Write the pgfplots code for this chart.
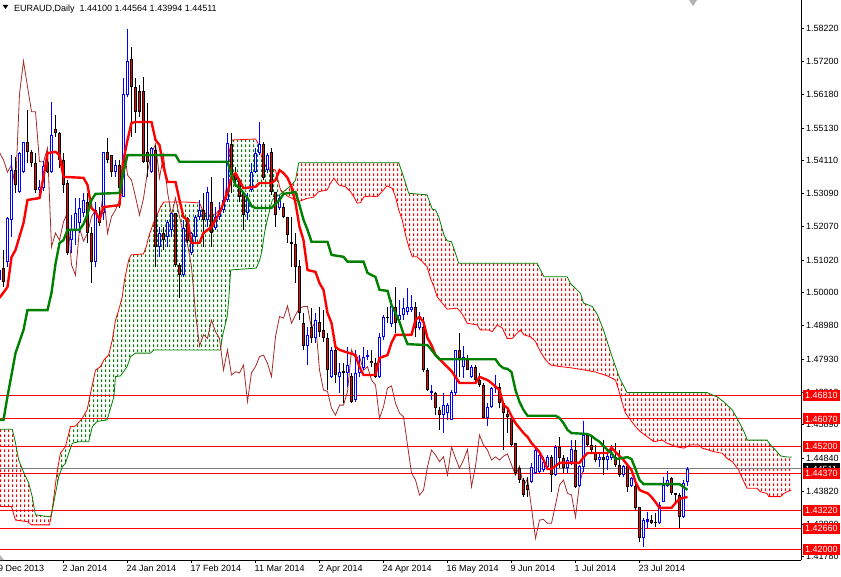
\documentclass[border=0pt]{standalone}
\usepackage{fontspec}
\setmainfont{Liberation Sans}
\usepackage{pgfplots}
\pgfplotsset{compat=1.18}
\usepackage{pgfplotstable}
\usepgfplotslibrary{fillbetween}
\usetikzlibrary{patterns.meta}

\definecolor{mtred}{RGB}{255,0,0}
\definecolor{mtgreen}{RGB}{0,128,0}
\definecolor{mtbrown}{RGB}{165,42,42}
\definecolor{mtblue}{RGB}{0,0,255}

% kumo hatch: one dashed vertical line per bar (4px)
\pgfdeclarepattern{
  name=kumo, type=uncolored,
  bottom left={\pgfpoint{0pt}{0pt}}, top right={\pgfpoint{4pt}{5pt}},
  tile size={\pgfpoint{4pt}{5pt}},
  code={\pgfsetlinewidth{1pt}\pgfpathmoveto{\pgfpoint{2pt}{0pt}}\pgfpathlineto{\pgfpoint{2pt}{3pt}}\pgfusepath{stroke}}
}

% daily candles, bar 0 = 9 Dec 2013
\pgfplotstableread{
i o h l c
0 1.5040 1.5100 1.5010 1.5070
1 1.5077 1.5133 1.5018 1.5034
2 1.5096 1.5236 1.5080 1.5233
3 1.5227 1.5429 1.5174 1.5382
4 1.5382 1.5423 1.5311 1.5336
5 1.5314 1.5439 1.5311 1.5435
6 1.5376 1.5470 1.5373 1.5470
7 1.5470 1.5569 1.5404 1.5439
8 1.5439 1.5445 1.5392 1.5404
9 1.5404 1.5435 1.5311 1.5320
10 1.5320 1.5351 1.5311 1.5330
11 1.5325 1.5410 1.5318 1.5395
12 1.5407 1.5423 1.5373 1.5376
13 1.5376 1.5594 1.5373 1.5491
14 1.5510 1.5554 1.5486 1.5498
15 1.5498 1.5500 1.5389 1.5414
16 1.5414 1.5435 1.5311 1.5336
17 1.5342 1.5351 1.5118 1.5124
18 1.5164 1.5242 1.5124 1.5196
19 1.5196 1.5295 1.5150 1.5249
20 1.5217 1.5295 1.5186 1.5264
21 1.5249 1.5311 1.5236 1.5289
22 1.5283 1.5311 1.5155 1.5186
23 1.5186 1.5205 1.5030 1.5096
24 1.5096 1.5283 1.5080 1.5258
25 1.5236 1.5268 1.5208 1.5217
26 1.5249 1.5437 1.5227 1.5437
27 1.5437 1.5481 1.5404 1.5414
28 1.5429 1.5429 1.5362 1.5376
29 1.5376 1.5414 1.5362 1.5398
30 1.5398 1.5414 1.5264 1.5326
31 1.5299 1.5669 1.5298 1.5619
32 1.5616 1.5822 1.5611 1.5722
33 1.5727 1.5767 1.5486 1.5642
34 1.5642 1.5669 1.5498 1.5564
35 1.5630 1.5647 1.5549 1.5564
36 1.5630 1.5673 1.5404 1.5408
37 1.5440 1.5591 1.5360 1.5408
38 1.5377 1.5455 1.5373 1.5450
39 1.5445 1.5460 1.5080 1.5143
40 1.5143 1.5205 1.5112 1.5186
41 1.5186 1.5205 1.5133 1.5164
42 1.5174 1.5227 1.5143 1.5221
43 1.5196 1.5249 1.5174 1.5249
44 1.5249 1.5249 1.5080 1.5087
45 1.5087 1.5093 1.4984 1.5055
46 1.5055 1.5227 1.5050 1.5201
47 1.5233 1.5236 1.5155 1.5161
48 1.5123 1.5190 1.5118 1.5185
49 1.5174 1.5242 1.5155 1.5237
50 1.5237 1.5289 1.5227 1.5258
51 1.5258 1.5311 1.5143 1.5227
52 1.5227 1.5330 1.5206 1.5315
53 1.5284 1.5362 1.5143 1.5185
54 1.5201 1.5268 1.5196 1.5237
55 1.5237 1.5284 1.5227 1.5258
56 1.5258 1.5358 1.5249 1.5289
57 1.5289 1.5497 1.5284 1.5466
58 1.5463 1.5497 1.5310 1.5367
59 1.5367 1.5393 1.5330 1.5351
60 1.5351 1.5351 1.5284 1.5299
61 1.5310 1.5310 1.5196 1.5242
62 1.5248 1.5310 1.5227 1.5294
63 1.5320 1.5403 1.5315 1.5377
64 1.5377 1.5450 1.5372 1.5434
65 1.5434 1.5533 1.5429 1.5463
66 1.5463 1.5470 1.5351 1.5357
67 1.5382 1.5434 1.5372 1.5429
68 1.5439 1.5450 1.5305 1.5314
69 1.5314 1.5314 1.5205 1.5242
70 1.5264 1.5305 1.5258 1.5295
71 1.5268 1.5280 1.5233 1.5237
72 1.5237 1.5237 1.5155 1.5180
73 1.5157 1.5237 1.5081 1.5152
74 1.5152 1.5186 1.5030 1.5081
75 1.5084 1.5102 1.4915 1.4936
76 1.4905 1.4937 1.4822 1.4834
77 1.4834 1.4894 1.4775 1.4869
78 1.4892 1.4953 1.4844 1.4858
79 1.4858 1.4937 1.4844 1.4915
80 1.4910 1.4957 1.4863 1.4879
81 1.4884 1.4946 1.4848 1.4858
82 1.4858 1.4874 1.4697 1.4759
83 1.4739 1.4832 1.4735 1.4822
84 1.4822 1.4828 1.4719 1.4744
85 1.4738 1.4781 1.4688 1.4754
86 1.4755 1.4781 1.4657 1.4750
87 1.4749 1.4832 1.4707 1.4775
88 1.4741 1.4750 1.4656 1.4661
89 1.4666 1.4822 1.4661 1.4751
90 1.4750 1.4806 1.4739 1.4770
91 1.4765 1.4832 1.4759 1.4801
92 1.4800 1.4822 1.4791 1.4806
93 1.4788 1.4822 1.4770 1.4780
94 1.4782 1.4797 1.4735 1.4739
95 1.4739 1.4874 1.4735 1.4863
96 1.4863 1.4931 1.4853 1.4926
97 1.4926 1.4957 1.4905 1.4921
98 1.4903 1.4978 1.4894 1.4959
99 1.4957 1.5019 1.4874 1.4905
100 1.4915 1.4978 1.4905 1.4931
101 1.4931 1.4984 1.4915 1.4952
102 1.4941 1.5015 1.4931 1.4957
103 1.4946 1.4993 1.4941 1.4957
104 1.4957 1.4972 1.4863 1.4889
105 1.4889 1.4941 1.4884 1.4910
106 1.4894 1.4926 1.4754 1.4759
107 1.4759 1.4766 1.4695 1.4697
108 1.4688 1.4713 1.4666 1.4693
109 1.4689 1.4692 1.4619 1.4640
110 1.4635 1.4645 1.4573 1.4619
111 1.4619 1.4687 1.4563 1.4650
112 1.4625 1.4657 1.4604 1.4650
113 1.4604 1.4697 1.4604 1.4692
114 1.4687 1.4822 1.4682 1.4822
115 1.4822 1.4874 1.4739 1.4796
116 1.4770 1.4834 1.4735 1.4801
117 1.4796 1.4806 1.4759 1.4759
118 1.4739 1.4775 1.4735 1.4770
119 1.4770 1.4775 1.4723 1.4728
120 1.4728 1.4750 1.4707 1.4713
121 1.4713 1.4719 1.4609 1.4609
122 1.4609 1.4657 1.4585 1.4645
123 1.4645 1.4707 1.4641 1.4703
124 1.4703 1.4744 1.4688 1.4710
125 1.4708 1.4719 1.4641 1.4656
126 1.4656 1.4661 1.4510 1.4625
127 1.4622 1.4645 1.4563 1.4614
128 1.4609 1.4614 1.4521 1.4526
129 1.4531 1.4532 1.4433 1.4438
130 1.4453 1.4458 1.4407 1.4417
131 1.4417 1.4423 1.4365 1.4370
132 1.4400 1.4427 1.4365 1.4385
133 1.4412 1.4470 1.4407 1.4458
134 1.4438 1.4516 1.4436 1.4510
135 1.4443 1.4505 1.4438 1.4495
136 1.4448 1.4489 1.4443 1.4474
137 1.4458 1.4495 1.4448 1.4489
138 1.4489 1.4495 1.4380 1.4432
139 1.4432 1.4526 1.4428 1.4520
140 1.4520 1.4552 1.4453 1.4485
141 1.4485 1.4495 1.4438 1.4453
142 1.4453 1.4489 1.4438 1.4479
143 1.4474 1.4541 1.4464 1.4512
144 1.4510 1.4541 1.4391 1.4396
145 1.4398 1.4464 1.4396 1.4460
146 1.4458 1.4601 1.4443 1.4557
147 1.4557 1.4562 1.4521 1.4526
148 1.4526 1.4552 1.4500 1.4510
149 1.4505 1.4526 1.4474 1.4479
150 1.4479 1.4505 1.4458 1.4489
151 1.4488 1.4541 1.4432 1.4479
152 1.4479 1.4500 1.4448 1.4491
153 1.4485 1.4526 1.4479 1.4498
154 1.4489 1.4531 1.4458 1.4464
155 1.4464 1.4510 1.4427 1.4432
156 1.4432 1.4464 1.4427 1.4460
157 1.4460 1.4464 1.4380 1.4396
158 1.4398 1.4427 1.4396 1.4422
159 1.4398 1.4407 1.4323 1.4329
160 1.4332 1.4334 1.4225 1.4235
161 1.4235 1.4297 1.4209 1.4292
162 1.4287 1.4318 1.4266 1.4294
163 1.4292 1.4308 1.4279 1.4282
164 1.4287 1.4313 1.4271 1.4282
165 1.4282 1.4349 1.4279 1.4339
166 1.4349 1.4427 1.4347 1.4401
167 1.4398 1.4446 1.4396 1.4417
168 1.4422 1.4425 1.4370 1.4375
169 1.4375 1.4375 1.4345 1.4370
170 1.4370 1.4375 1.4266 1.4301
171 1.4301 1.4417 1.4298 1.4406
172 1.44100 1.44564 1.43994 1.44511
}\candles

\tikzset{lvl/.style={fill=mtred, text=white, anchor=west, inner xsep=2.5pt, inner ysep=0pt,
  minimum height=11pt, font=\fontsize{9}{10}\selectfont}}
% a candle part drawn as an error bar only (no marks, no line)
\pgfplotsset{candle/.style n args={2}{draw=none, no markers, forget plot,
  error bars/.cd, y dir=plus, y explicit, error mark=none,
  error bar style={draw=#1, line width=#2}}}

\begin{document}
\begin{tikzpicture}
\begin{axis}[
  scale only axis, width=801pt, height=560pt,
  xmin=0.125, xmax=200.375, ymin=1.41676, ymax=1.5912,
  axis x line*=bottom, axis y line*=right,
  axis line style={line width=1pt, black},
  tick align=outside, major tick length=3pt,
  tick style={black, line width=0.8pt},
  tick label style={font=\fontsize{9}{10}\selectfont},
  xtick={16,32,48,64,80,96,112,128,144,160},
  xticklabels={2 Jan 2014, 24 Jan 2014, 17 Feb 2014, 11 Mar 2014, 2 Apr 2014, 24 Apr 2014, 16 May 2014, 9 Jun 2014, 1 Jul 2014, 23 Jul 2014},
  xticklabel style={anchor=north west, inner sep=0pt, xshift=-1pt, yshift=-2pt},
  ytick={1.5822,1.5720,1.5618,1.5513,1.5411,1.5309,1.5207,1.5102,1.5000,1.4898,1.4793,1.4691,1.4589,1.4484,1.4382,1.4280,1.4178},
  yticklabels={1.58220,1.57200,1.56180,1.55130,1.54110,1.53090,1.52070,1.51020,1.50000,1.48980,1.47930,1.46910,1.45890,1.44840,1.43820,1.42800,1.41780},
  yticklabel style={anchor=west, inner sep=0pt, xshift=2pt},
]
\coordinate (SW) at (rel axis cs:0,0);
\coordinate (NE) at (rel axis cs:1,1);
\coordinate (NW) at (rel axis cs:0,1);
\coordinate (P0) at (axis cs:200.375,1.44511);
\coordinate (P1) at (axis cs:200.375,1.4681);
\coordinate (P2) at (axis cs:200.375,1.4607);
\coordinate (P3) at (axis cs:200.375,1.4520);
\coordinate (P4) at (axis cs:200.375,1.4437);
\coordinate (P5) at (axis cs:200.375,1.4322);
\coordinate (P6) at (axis cs:200.375,1.4266);
\coordinate (P7) at (axis cs:200.375,1.4200);

% price levels
\addplot[gray, line width=1pt, forget plot] coordinates {(0,1.44511)(201,1.44511)};
\addplot[mtred, line width=1pt, forget plot] coordinates {(0,1.4681)(201,1.4681)};
\addplot[mtred, line width=1pt, forget plot] coordinates {(0,1.4607)(201,1.4607)};
\addplot[mtred, line width=1pt, forget plot] coordinates {(0,1.4520)(201,1.4520)};
\addplot[mtred, line width=1pt, forget plot] coordinates {(0,1.4437)(201,1.4437)};
\addplot[mtred, line width=1pt, forget plot] coordinates {(0,1.4322)(201,1.4322)};
\addplot[mtred, line width=1pt, forget plot] coordinates {(0,1.4266)(201,1.4266)};
\addplot[mtred, line width=1pt, forget plot] coordinates {(0,1.4200)(201,1.4200)};

% Senkou span A and B (shifted 26 bars ahead)
\addplot[name path=spanA, mtred, line width=0.8pt, forget plot] coordinates {
(0,1.4334)(3,1.4334)(4,1.4292)(7,1.4287)(8,1.4277)(12.5,1.4277)(13,1.4308)(13.6,1.4365)
(14.4,1.4443)(15.25,1.4501)(16.5,1.4521)(17.75,1.4583)(19,1.4585)(20.7,1.4609)(21.9,1.4635)
(22.75,1.4687)(24,1.4759)(25.25,1.4770)(26.1,1.4791)(27.3,1.4806)(28.2,1.4853)(29,1.4915)
(29.8,1.4946)(30.7,1.4988)(31.25,1.5040)(32.3,1.5102)(32.9,1.5118)(36,1.5121)(36.7,1.5144)
(37.3,1.5175)(38.6,1.5221)(40.25,1.5267)(41.1,1.5283)(46,1.5283)(50,1.5280)(51,1.5252)
(52,1.5242)(54,1.5245)(55,1.5258)(56,1.5273)(57,1.5351)(57.5,1.5445)(58.2,1.5476)(64,1.5479)
(64.75,1.5463)(65.75,1.5414)(66.75,1.5392)(69,1.5382)(70.25,1.5320)(72,1.5301)(74.8,1.5284)
(76.9,1.5294)(78.5,1.5298)(79.8,1.5315)(81.9,1.5320)(82.75,1.5341)(83.6,1.5357)(84.8,1.5336)
(86.5,1.5330)(87.75,1.5315)(88.6,1.5299)(89.4,1.5279)(90.25,1.5281)(91.1,1.5299)(92.75,1.5301)
(94.4,1.5299)(95.25,1.5310)(96.9,1.5333)(98.2,1.5325)(99,1.5299)(99.8,1.5258)(100.7,1.5227)
(101.5,1.5180)(102.3,1.5144)(103.2,1.5112)(104.4,1.5112)(105.7,1.5097)(106.9,1.5081)
(107.75,1.5045)(108.6,1.5019)(109.4,1.4988)(110.7,1.4967)(111.9,1.4949)(114.4,1.4952)
(115.25,1.4941)(116.1,1.4925)(116.9,1.4905)(119.4,1.4900)(120.25,1.4884)(122.3,1.4884)
(123.2,1.4879)(124.4,1.4900)(125.7,1.4890)(126.9,1.4858)(128.2,1.4858)(129.4,1.4874)
(130.25,1.4884)(131.1,1.4869)(132.75,1.4863)(134,1.4848)(135.25,1.4816)(136.5,1.4791)
(137.75,1.4775)(140.25,1.4770)(143,1.4766)(146.5,1.4759)(149,1.4753)(152,1.4741)(154,1.4728)
(154.8,1.4697)(155.7,1.4656)(156.5,1.4625)(157.75,1.4604)(159,1.4583)(160.25,1.4567)
(161.9,1.4552)(163.6,1.4536)(165.7,1.4541)(166.9,1.4531)(169,1.4521)(171.1,1.4516)
(172.75,1.4526)(174.8,1.4526)(175.7,1.4516)(178.6,1.4505)(180.7,1.4500)(181.9,1.4484)
(183.2,1.4474)(184.8,1.4448)(185.7,1.4422)(186.5,1.4401)(186.9,1.4391)(189.4,1.4391)
(190.25,1.4380)(191.9,1.4375)(192.3,1.4365)(195.25,1.4365)(196.1,1.4375)(196.9,1.4380)(198,1.4386)
};
\addplot[name path=spanB, mtgreen, line width=0.8pt, forget plot] coordinates {
(0,1.4575)(3.2,1.4575)(4,1.4532)(4.8,1.4479)(6.1,1.4439)(7.3,1.4407)(8.2,1.4364)(8.6,1.4333)
(9,1.4308)(12.75,1.4302)(13.2,1.4323)(14,1.4375)(14.8,1.4427)(15.7,1.4458)(16.5,1.4469)
(17.3,1.4500)(18.2,1.4531)(19.8,1.4536)(22.3,1.4536)(23.2,1.4583)(24.4,1.4599)(26.9,1.4604)
(28.6,1.4676)(29,1.4739)(30.25,1.4741)(31.9,1.4770)(32.75,1.4801)(34,1.4812)(37.75,1.4812)
(38.6,1.4822)(55.25,1.4822)(55.7,1.4863)(56.9,1.4925)(57.3,1.4978)(57.8,1.5071)(64.2,1.5077)
(65,1.5100)(65.6,1.5130)(66.3,1.5190)(67,1.5230)(68.2,1.5289)(69,1.5298)(70,1.5305)(71,1.5315)
(72,1.5325)(73,1.5335)(74,1.5351)(74.8,1.5405)(99.8,1.5405)(101,1.5362)(102.3,1.5310)(106.9,1.5305)
(108.2,1.5260)(109,1.5258)(109.8,1.5237)(111.1,1.5180)(111.9,1.5162)(113,1.5159)(114,1.5123)
(114.8,1.5092)(134.4,1.5092)(136.1,1.5050)(141.9,1.5050)(142.75,1.5029)(145.25,1.4998)
(146,1.4968)(148.2,1.4957)(149.5,1.4931)(151,1.4884)(153,1.4806)(155,1.4735)(156.9,1.4689)
(176.9,1.4689)(178.2,1.4682)(179.5,1.4675)(181,1.4661)(183.2,1.4635)(184.4,1.4609)
(185.7,1.4578)(186.5,1.4557)(186.9,1.4541)(191.9,1.4541)(192.75,1.4526)(194,1.4510)
(195.25,1.4492)(196.5,1.4489)(198,1.4488)
};
\addplot[draw=none, pattern=kumo, pattern color=mtred, forget plot]
  fill between[of=spanA and spanB, soft clip={domain=0:13.1}];
\addplot[draw=none, pattern=kumo, pattern color=mtgreen, forget plot]
  fill between[of=spanA and spanB, soft clip={domain=13.1:70.9}];
\addplot[draw=none, pattern=kumo, pattern color=mtred, forget plot]
  fill between[of=spanA and spanB, soft clip={domain=70.9:198}];

% Chikou span: close shifted 26 bars back
\addplot[mtbrown, line width=0.8pt, forget plot] table[x expr=\thisrow{i}-26, y=c] {\candles};

% candles: wicks, then bodies (outline, then the inner fill one pixel inside)
\addplot[candle={mtblue}{1pt}]
  table[x=i, y expr={\thisrow{c}>=\thisrow{o} ? \thisrow{l} : nan}, y error expr={\thisrow{h}-\thisrow{l}}] {\candles};
\addplot[candle={black}{1pt}]
  table[x=i, y expr={\thisrow{c}<\thisrow{o} ? \thisrow{l} : nan}, y error expr={\thisrow{h}-\thisrow{l}}] {\candles};
\addplot[candle={mtblue}{3pt}]
  table[x=i, y expr={\thisrow{c}>=\thisrow{o} ? \thisrow{o} : nan}, y error expr={max(\thisrow{c}-\thisrow{o},0.0003)}] {\candles};
\addplot[candle={white}{1pt}]
  table[x=i, y expr={\thisrow{c}-\thisrow{o}>0.0007 ? \thisrow{o}+0.00031 : nan}, y error expr={\thisrow{c}-\thisrow{o}-0.00062}] {\candles};
\addplot[candle={black}{3pt}]
  table[x=i, y expr={\thisrow{c}<\thisrow{o} ? \thisrow{c} : nan}, y error expr={max(\thisrow{o}-\thisrow{c},0.0003)}] {\candles};
\addplot[candle={mtred}{1pt}]
  table[x=i, y expr={\thisrow{o}-\thisrow{c}>0.0007 ? \thisrow{c}+0.00031 : nan}, y error expr={\thisrow{o}-\thisrow{c}-0.00062}] {\candles};

% Tenkan-sen
\addplot[mtred, line width=2.4pt, forget plot] coordinates {
(0,1.4984)(2,1.5018)(3,1.5111)(4,1.5133)(6,1.5217)(7,1.5289)(10,1.5295)(11,1.5361)(12,1.5435)
(14,1.5439)(15,1.5429)(16,1.5361)(21,1.5358)(22,1.5336)(23,1.5264)(24,1.5252)(25,1.5227)
(26,1.5267)(30,1.5273)(31,1.5414)(32,1.5476)(33,1.5529)(34,1.5532)(38,1.5532)(39,1.5476)
(40,1.5460)(41,1.5392)(42,1.5345)(44,1.5345)(45,1.5289)(46,1.5236)(47,1.5227)(48,1.5155)
(50,1.5155)(51,1.5186)(53,1.5205)(55,1.5249)(57,1.5311)(58,1.5361)(59,1.5373)(61,1.5326)
(64,1.5330)(65,1.5342)(68,1.5342)(69,1.5351)(70,1.5382)(71,1.5373)(72,1.5358)(73,1.5330)
(74,1.5280)(75,1.5205)(76,1.5164)(77,1.5071)(79,1.5065)(80,1.5030)(81,1.5009)(82,1.4937)
(83,1.4906)(84,1.4831)(85,1.4822)(89,1.4806)(90,1.4769)(91,1.4744)(94,1.4744)(95,1.4797)
(97,1.4806)(98,1.4844)(99,1.4869)(103,1.4869)(104,1.4915)(105,1.4925)(106,1.4909)(107,1.4859)
(108,1.4837)(109,1.4806)(111,1.4781)(113,1.4756)(115,1.4719)(119,1.4719)(120,1.4738)
(122,1.4728)(123,1.4719)(125,1.4697)(126,1.4650)(127,1.4641)(128,1.4616)(129,1.4594)
(131,1.4563)(132,1.4551)(133,1.4532)(135,1.4504)(136,1.4479)(137,1.4451)(138,1.4451)
(140,1.4470)(145,1.4470)(146,1.4488)(147,1.4501)(152,1.4501)(153,1.4517)(154,1.4504)
(156,1.4479)(158,1.4448)(159,1.4411)(160,1.4386)(161,1.4380)(162,1.4376)(163,1.4364)
(164,1.4348)(165,1.4330)(168,1.4330)(169,1.4345)(170,1.4358)(171,1.4361)(172,1.4364)
};
% Kijun-sen
\addplot[mtgreen, line width=2.4pt, forget plot] coordinates {
(0,1.4604)(1,1.4604)(2,1.4677)(3,1.4744)(4,1.4812)(6,1.4884)(7,1.4946)(12,1.4946)(13,1.5000)
(14,1.5090)(15,1.5155)(16,1.5164)(17,1.5196)(20,1.5196)(21,1.5214)(22,1.5245)(23,1.5289)
(24,1.5308)(30,1.5311)(31,1.5376)(32,1.5429)(44,1.5429)(45,1.5408)(57,1.5408)(58,1.5367)
(59,1.5335)(60,1.5327)(61,1.5311)(62,1.5295)(63,1.5270)(64,1.5264)(68,1.5264)(69,1.5277)
(70,1.5289)(71,1.5308)(74,1.5314)(75,1.5273)(76,1.5227)(77,1.5196)(78,1.5159)(82,1.5159)
(83,1.5118)(86,1.5112)(87,1.5097)(91,1.5097)(92,1.5062)(94,1.5049)(95,1.5009)(97,1.5006)
(98,1.4962)(99,1.4937)(100,1.4909)(101,1.4872)(102,1.4840)(107,1.4837)(108,1.4822)
(109,1.4806)(110,1.4793)(124,1.4793)(125,1.4775)(126,1.4765)(127,1.4763)(128,1.4753)
(129,1.4697)(130,1.4660)(131,1.4635)(132,1.4617)(139,1.4617)(140,1.4610)(141,1.4594)
(142,1.4573)(143,1.4563)(147,1.4560)(148,1.4554)(149,1.4544)(150,1.4536)(151,1.4523)
(152,1.4510)(153,1.4501)(154,1.4482)(157,1.4488)(158,1.4482)(159,1.4451)(160,1.4417)
(161,1.4404)(170,1.4404)(171,1.4395)(172,1.4386)
};
\end{axis}

% price boxes on the right scale
\node[lvl, fill=black] at ([xshift=1.5pt]P0) {1.44511};
\node[lvl] at ([xshift=1.5pt]P1) {1.46810};
\node[lvl] at ([xshift=1.5pt]P2) {1.46070};
\node[lvl] at ([xshift=1.5pt]P3) {1.45200};
\node[lvl] at ([xshift=1.5pt]P4) {1.44370};
\node[lvl] at ([xshift=1.5pt]P5) {1.43220};
\node[lvl] at ([xshift=1.5pt]P6) {1.42660};
\node[lvl] at ([xshift=1.5pt]P7) {1.42000};

% header and first date label
\fill ([xshift=2.7pt,yshift=-5pt]NW) -- ++(5.6pt,0) -- ++(-2.8pt,-4pt) -- cycle;
\node[anchor=base west, inner sep=0pt, font=\fontsize{9}{10}\selectfont] at ([xshift=14pt,yshift=-11.5pt]NW)
  {EURAUD,Daily\ \ 1.44100 1.44564 1.43994 1.44511};
\node[anchor=north west, inner sep=0pt, font=\fontsize{9}{10}\selectfont] at ([xshift=-2pt,yshift=-5pt]SW) {9 Dec 2013};
\fill[gray!60] ([xshift=689pt]NW) -- ++(8pt,0) -- ++(-4pt,-6pt) -- cycle;
\fill[gray!60] (SW) -- ++(4pt,0) -- ++(-4pt,5pt) -- cycle;

\pgfresetboundingbox
\path[use as bounding box] ([yshift=-16pt]SW) rectangle ([xshift=40pt]NE);
\end{tikzpicture}
\end{document}
